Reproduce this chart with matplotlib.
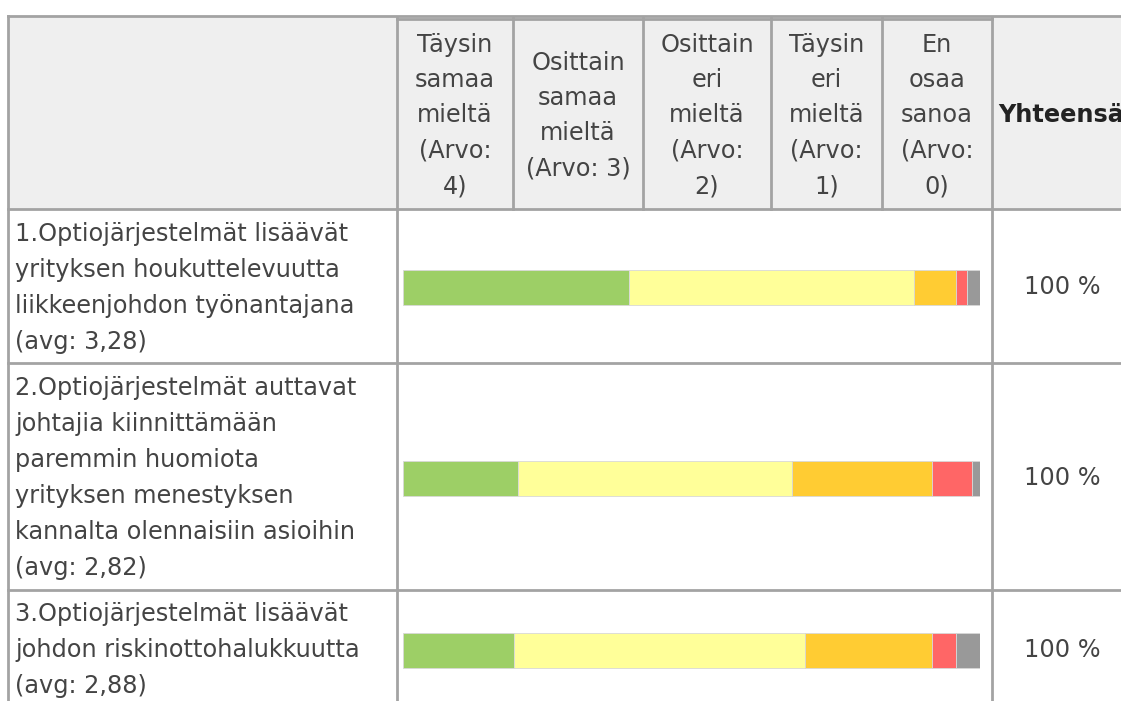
import matplotlib.pyplot as plt

# survey answers (%), per statement
categories = ["Täysin samaa mieltä", "Osittain samaa mieltä", "Osittain eri mieltä",
              "Täysin eri mieltä", "En osaa sanoa"]
headers = [["Täysin", "samaa", "mieltä", "(Arvo:", "4)"],
           ["Osittain", "samaa", "mieltä", "(Arvo: 3)"],
           ["Osittain", "eri", "mieltä", "(Arvo:", "2)"],
           ["Täysin", "eri", "mieltä", "(Arvo:", "1)"],
           ["En", "osaa", "sanoa", "(Arvo:", "0)"]]
statements = [["1.Optiojärjestelmät lisäävät", "yrityksen houkuttelevuutta",
               "liikkeenjohdon työnantajana", "(avg: 3,28)"],
              ["2.Optiojärjestelmät auttavat", "johtajia kiinnittämään",
               "paremmin huomiota", "yrityksen menestyksen",
               "kannalta olennaisiin asioihin", "(avg: 2,82)"],
              ["3.Optiojärjestelmät lisäävät", "johdon riskinottohalukkuutta",
               "(avg: 2,88)"]]
taysin_samaa = [39.2, 19.9, 19.2]
osittain_samaa = [49.3, 47.6, 50.4]
osittain_eri = [7.3, 24.2, 22.1]
taysin_eri = [1.9, 7.0, 4.1]
en_osaa = [2.3, 1.3, 4.2]
totals = ["100 %", "100 %", "100 %"]
colors = ["#9dcf66", "#ffff99", "#ffcc33", "#ff6666", "#999999"]

W, H = 1121, 701
fig = plt.figure(figsize=(W / 100, H / 100), dpi=100)
bg = fig.add_axes([0, 0, 1, 1])
bg.set_xlim(0, W)
bg.set_ylim(H, 0)
bg.axis("off")

txt = "#444444"
line = "#a3a3a3"
fs = 17.3

# header background
bg.add_patch(plt.Rectangle((9, 16), W, 193, color="#efefef", zorder=0))

# table lines
col_x = [397, 513, 643, 771, 882, 992]
row_y = [209, 363, 590]
bg.plot([8, W], [16, 16], color=line, lw=2)
bg.plot([397, 992], [19, 19], color=line, lw=2)
bg.plot([8, 8], [16, H], color=line, lw=2)
for x in col_x:
    bg.plot([x, x], [18, 209], color=line, lw=2)
for x in [397, 992]:
    bg.plot([x, x], [209, H], color=line, lw=2)
for y in row_y:
    bg.plot([8, W], [y, y], color=line, lw=2)

# header texts
for i, lines in enumerate(headers):
    cx = (col_x[i] + col_x[i + 1]) / 2
    y0 = 115.5 - (len(lines) - 1) * 35.3 / 2
    for j, s in enumerate(lines):
        bg.text(cx, y0 + j * 35.3, s, ha="center", va="center", fontsize=fs,
                color=txt, family="DejaVu Sans")
bg.text(998, 115, "Yhteensä", ha="left", va="center", fontsize=fs,
        color="#222222", fontweight="bold", family="DejaVu Sans")

# statement texts and totals
row_center = [287, 478, 650]
row_first = [234, 388, 614]
for i, lines in enumerate(statements):
    for j, s in enumerate(lines):
        bg.text(15, row_first[i] + j * 36, s, ha="left", va="center",
                fontsize=fs, color=txt, family="DejaVu Sans")
    bg.text(1062, row_center[i], totals[i], ha="center", va="center",
            fontsize=fs, color=txt, family="DejaVu Sans")

# stacked bars
ax = fig.add_axes([403 / W, 0, (980 - 403) / W, 1])
ax.set_xlim(0, 100)
ax.set_ylim(H, 0)
ax.axis("off")
series = [taysin_samaa, osittain_samaa, osittain_eri, taysin_eri, en_osaa]
left = [0, 0, 0]
for vals, c, name in zip(series, colors, categories):
    ax.barh(row_center, vals, left=left, height=35, color=c,
            edgecolor="#d8d8d8", linewidth=0.6, label=name)
    left = [l + v for l, v in zip(left, vals)]

fig.savefig("out.png", dpi=100)
